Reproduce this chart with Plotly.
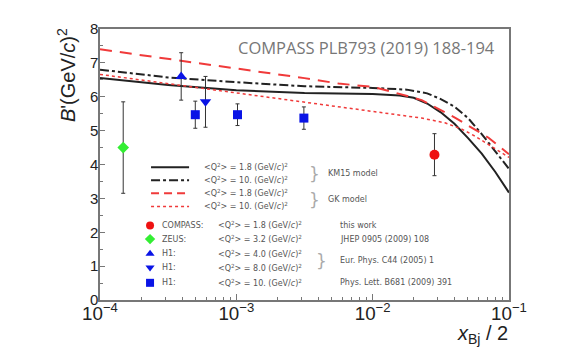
import numpy as np
import plotly.graph_objects as go

# ---- data ----
km15_18_x = [1e-4, 3.16e-4, 1e-3, 3.16e-3, 1e-2, 1.58e-2, 2.0e-2, 2.51e-2, 3.16e-2, 3.98e-2, 5.01e-2, 6.31e-2, 7.94e-2, 1e-1]
km15_18 = [6.55, 6.35, 6.19, 6.11, 6.08, 6.04, 5.97, 5.80, 5.54, 5.20, 4.78, 4.32, 3.78, 3.17]

km15_10_x = [1e-4, 3.16e-4, 1e-3, 3.16e-3, 1e-2, 1.78e-2, 2.51e-2, 3.16e-2, 3.98e-2, 5.01e-2, 6.31e-2, 7.94e-2, 1e-1]
km15_10 = [6.80, 6.57, 6.43, 6.31, 6.26, 6.21, 6.10, 5.93, 5.71, 5.37, 4.90, 4.37, 3.87]

gk_18_x = [1e-4, 1e-3, 3.16e-3, 5.62e-3, 1e-2, 1.32e-2, 2.29e-2, 4.07e-2, 7.08e-2, 1e-1]
gk_18 = [7.40, 6.84, 6.55, 6.39, 6.29, 6.17, 5.90, 5.37, 4.79, 4.30]

gk_10_x = [1e-4, 3.16e-4, 1e-3, 3.16e-3, 1e-2, 2.29e-2, 3.39e-2, 4.47e-2, 5.62e-2, 7.59e-2, 1e-1]
gk_10 = [6.66, 6.39, 6.12, 5.85, 5.58, 5.37, 5.23, 5.05, 4.84, 4.52, 4.21]

compass_x = [0.0284]; compass_y = [4.29]; compass_err = [0.62]
zeus_x = [1.48e-4]; zeus_y = [4.50]; zeus_err = [1.35]
h1a_x = [3.94e-4]; h1a_y = [6.60]; h1a_err = [0.70]
h1b_x = [5.94e-4]; h1b_y = [5.85]; h1b_err = [0.75]
h1c_x = [5.0e-4, 1.02e-3, 3.13e-3]; h1c_y = [5.47, 5.47, 5.37]; h1c_err = [0.40, 0.32, 0.33]

y_ticks = [0, 1, 2, 3, 4, 5, 6, 7, 8]

GRAY = "#777777"
TXT = "#555555"
RED = "#f03a3a"
GREEN = "#33ee33"
BLUE = "#0a14e6"

# plot area in pixels (for placing legend / titles)
PL, PR, PT, PB = 92, 500.7, 16, 292
def px(x): return (x - PL) / (PR - PL)
def py(y): return (PB - y) / (PB - PT)

fig = go.Figure()

fig.add_trace(go.Scatter(x=km15_18_x, y=km15_18, mode="lines", line=dict(color="#222222", width=2), showlegend=False))
fig.add_trace(go.Scatter(x=km15_10_x, y=km15_10, mode="lines", line=dict(color="#222222", width=2, dash="dashdot"), showlegend=False))
fig.add_trace(go.Scatter(x=gk_18_x, y=gk_18, mode="lines", line=dict(color=RED, width=2, dash="12px,8px"), showlegend=False))
fig.add_trace(go.Scatter(x=gk_10_x, y=gk_10, mode="lines", line=dict(color=RED, width=1.5, dash="dot"), showlegend=False))

def pts(x, y, e, sym, col, size=9):
    fig.add_trace(go.Scatter(x=x, y=y, mode="markers",
                             marker=dict(symbol=sym, color=col, size=size),
                             error_y=dict(type="data", array=e, color="#333333", thickness=1, width=2),
                             showlegend=False))

pts(compass_x, compass_y, compass_err, "circle", "#ee1111", 10)
pts(zeus_x, zeus_y, zeus_err, "diamond", GREEN, 9)
pts(h1a_x, h1a_y, h1a_err, "triangle-up", BLUE, 10)
pts(h1b_x, h1b_y, h1b_err, "triangle-down", BLUE, 10)
pts(h1c_x, h1c_y, h1c_err, "square", BLUE, 9)

# ---- legend drawn on an overlay axis in pixel-like units ----
leg_lines = [
    (156.7, dict(color="#222222", width=2)),
    (170.0, dict(color="#222222", width=2, dash="dashdot")),
    (183.3, dict(color=RED, width=2, dash="8px,5px")),
    (196.7, dict(color=RED, width=1.5, dash="dot")),
]
for yy, ln in leg_lines:
    fig.add_trace(go.Scatter(x=[143, 181], y=[yy, yy], mode="lines", line=ln, xaxis="x2", yaxis="y2", showlegend=False, hoverinfo="skip"))

leg_marks = [
    (216, "circle", "#ee1111", "COMPASS:", "1.8"),
    (230, "diamond", GREEN, "ZEUS:", "3.2"),
    (245, "triangle-up", BLUE, "H1:", "4.0"),
    (259, "triangle-down", BLUE, "H1:", "8.0"),
    (274.5, "square", BLUE, "H1:", "10."),
]
for yy, sym, col, lab, q in leg_marks:
    fig.add_trace(go.Scatter(x=[142], y=[yy], mode="markers", marker=dict(symbol=sym, color=col, size=8), xaxis="x2", yaxis="y2", showlegend=False, hoverinfo="skip"))

anns = []
LF = dict(family="DejaVu Sans", size=8, color=TXT)
def ann(x, y, text, font, xanchor="left", **kw):
    anns.append(dict(x=px(x), y=py(y), xref="paper", yref="paper", text=text, showarrow=False,
                     xanchor=xanchor, yanchor="middle", font=font, **kw))

q_labels = ["1.8", "10.", "1.8", "10."]
for (yy, _), q in zip(leg_lines, q_labels):
    ann(194, yy, f"&lt;Q<sup>2</sup>&gt; = {q} (GeV/<i>c</i>)<sup>2</sup>", LF)
for yy, sym, col, lab, q in leg_marks:
    ann(152, yy, lab, LF)
    ann(208, yy, f"&lt;Q<sup>2</sup>&gt; = {q} (GeV/<i>c</i>)<sup>2</sup>", LF)
for xx, yy, t in [(318, 163.3, "KM15 model"), (318, 190, "GK model"), (330, 216, "this work"),
                  (330, 230, "JHEP 0905 (2009) 108"), (330, 252, "Eur. Phys. C44 (2005) 1"),
                  (330, 274.5, "Phys. Lett. B681 (2009) 391")]:
    ann(xx, yy, t, LF)
for xx, yy in [(306, 163.3), (306, 190), (313, 252)]:
    ann(xx, yy, "}", dict(family="DejaVu Sans", size=17, color="#aaaaaa"), xanchor="center")

# title text
ann(489, 35, "COMPASS PLB793 (2019) 188-194", dict(family="Open Sans", size=16.5, color=GRAY), xanchor="right")
# axis titles
ann(58, 63, "<i>B</i>'(GeV/<i>c</i>)<sup>2</sup>", dict(family="Liberation Sans", size=20, color="#222222"),
    xanchor="center", textangle=-90)
ann(502, 327, "<i>x</i><sub>Bj</sub> / 2", dict(family="Liberation Sans", size=20, color="#222222"), xanchor="right")

fig.update_layout(
    width=582, height=357,
    margin=dict(l=PL, r=582 - PR, t=PT, b=357 - PB),
    paper_bgcolor="white", plot_bgcolor="white",
    annotations=anns,
    xaxis=dict(type="log", range=[-4, -1], dtick=1, exponentformat="power", showgrid=False, zeroline=False,
               showline=True, linecolor=GRAY, linewidth=1.5, mirror=True,
               ticks="inside", ticklen=6, tickcolor=GRAY, tickwidth=1, ticklabelstandoff=-4,
               minor=dict(ticks="inside", ticklen=3, tickcolor=GRAY, showgrid=False),
               tickfont=dict(family="Liberation Sans", size=15, color="#222222")),
    yaxis=dict(range=[0, 8], tickvals=y_ticks, showgrid=False, zeroline=False,
               showline=True, linecolor=GRAY, linewidth=1.5, mirror=True,
               ticks="inside", ticklen=5, tickcolor=GRAY, tickwidth=1, ticklabelstandoff=-3,
               minor=dict(dtick=0.5, ticks="inside", ticklen=3, tickcolor=GRAY, showgrid=False),
               tickfont=dict(family="Liberation Sans", size=15, color="#222222")),
    xaxis2=dict(range=[PL, PR], overlaying="x", visible=False, fixedrange=True),
    yaxis2=dict(range=[PB, PT], overlaying="y", visible=False, fixedrange=True),
)

fig.write_html("out.html")
